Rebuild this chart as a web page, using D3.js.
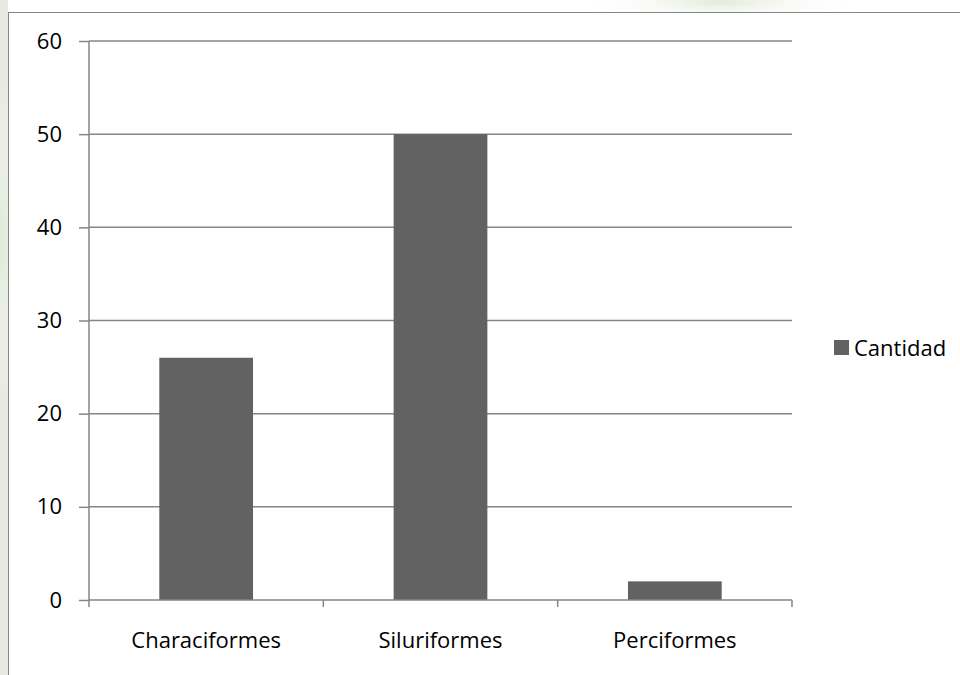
<!DOCTYPE html>
<html><head><meta charset="utf-8">
<script src="https://cdn.jsdelivr.net/npm/d3@7/dist/d3.min.js"></script>
<style>body{margin:0;background:#fff}svg{display:block}</style>
</head><body><svg id="c" width="960" height="675"></svg>
<script>
const categories = ["Characiformes", "Siluriformes", "Perciformes"];
const values = [26, 50, 2];
const yTicks = [0, 10, 20, 30, 40, 50, 60];
const seriesName = "Cantidad";

(function(){
const svg = d3.select("#c");
const defs = svg.append("defs");
const g1 = defs.append("radialGradient").attr("id","wm1");
g1.append("stop").attr("offset","0%").attr("stop-color","#dfe8d4").attr("stop-opacity",0.9);
g1.append("stop").attr("offset","100%").attr("stop-color","#ffffff").attr("stop-opacity",0);
// faint watermark
svg.append("rect").attr("x",0).attr("y",0).attr("width",960).attr("height",675).attr("fill","#fff");
svg.append("ellipse").attr("cx",720).attr("cy",2).attr("rx",140).attr("ry",22).attr("fill","url(#wm1)");
svg.append("rect").attr("x",0).attr("y",0).attr("width",8).attr("height",675).attr("fill","#e6eae2");
svg.append("ellipse").attr("cx",0).attr("cy",240).attr("rx",30).attr("ry",160).attr("fill","url(#wm1)");

// chart frame
svg.append("rect").attr("x",8.5).attr("y",12.5).attr("width",960).attr("height",680)
  .attr("fill","#fff").attr("stroke","#868686").attr("stroke-width",1);

const pLeft = 89, pRight = 792, pTop = 41, pBottom = 600;
const x = d3.scaleBand().domain(categories).range([pLeft, pRight]).paddingInner(0.6).paddingOuter(0.3);
const y = d3.scaleLinear().domain([0, 60]).range([pBottom, pTop]);
const gridColor = "#868686";
const font = "'Open Sans', 'Liberation Sans', sans-serif";
const fs = 22;

// gridlines
svg.append("g").selectAll("line").data(yTicks.filter(d=>d>0)).join("line")
  .attr("x1",pLeft).attr("x2",pRight).attr("y1",d=>y(d)).attr("y2",d=>y(d))
  .attr("stroke",gridColor).attr("stroke-width",1.5);

// bars
svg.append("g").selectAll("rect").data(values).join("rect")
  .attr("x",(d,i)=>x(categories[i])).attr("width",x.bandwidth())
  .attr("y",d=>y(d)).attr("height",d=>y(0)-y(d)).attr("fill","#626262");

// y axis
const yAxis = d3.axisLeft(y).tickValues(yTicks).tickSize(10).tickPadding(17);
const ya = svg.append("g").attr("transform",`translate(${pLeft},0)`).call(yAxis);
ya.attr("font-size",null).attr("font-family",null);
ya.select(".domain").attr("stroke",gridColor).attr("stroke-width",1.5).attr("d",`M0,${pTop}V${pBottom}`);
ya.selectAll(".tick line").attr("stroke",gridColor).attr("stroke-width",1.5);
ya.selectAll(".tick text").style("font-family",font).style("font-size",fs+"px").attr("fill","#000");

// x axis
const xAxis = d3.axisBottom(x).tickSize(0).tickPadding(0);
const xa = svg.append("g").attr("transform",`translate(0,${pBottom})`).call(xAxis);
xa.attr("font-size",null).attr("font-family",null);
xa.select(".domain").attr("stroke",gridColor).attr("stroke-width",1.5).attr("d",`M${pLeft},0H${pRight}`);
xa.selectAll(".tick text").attr("y",48).attr("dy",0)
  .style("font-family",font).style("font-size",fs+"px").attr("fill","#000");
// x tick marks at category boundaries
const bounds = d3.range(categories.length+1).map(i=>pLeft + i*(pRight-pLeft)/categories.length);
svg.append("g").selectAll("line").data(bounds).join("line")
  .attr("x1",d=>d).attr("x2",d=>d).attr("y1",pBottom).attr("y2",pBottom+7)
  .attr("stroke",gridColor).attr("stroke-width",1.5);

// legend
const lg = svg.append("g").attr("transform","translate(834,340)");
lg.append("rect").attr("x",0).attr("y",0).attr("width",15).attr("height",15).attr("fill","#626262");
lg.append("text").attr("x",20).attr("y",16)
  .style("font-family",font).style("font-size",fs+"px").attr("fill","#000").text(seriesName);
})();
</script></body></html>
